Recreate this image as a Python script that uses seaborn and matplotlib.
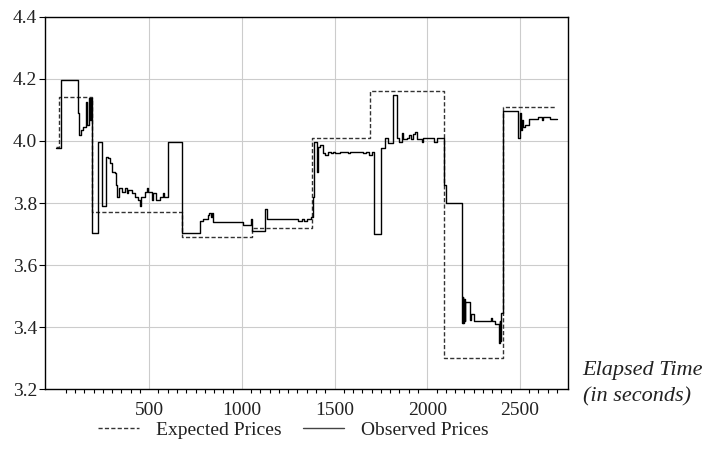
import numpy as np
import pandas as pd
import matplotlib
matplotlib.use("Agg")
import matplotlib.pyplot as plt
import seaborn as sns
from matplotlib.ticker import MultipleLocator, FixedLocator, FormatStrFormatter
from matplotlib.lines import Line2D

# data (step series)
exp_t = [0, 15, 193, 675, 1053, 1376, 1691, 2092, 2410, 2693]
exp_p = [3.98, 4.14, 3.77, 3.69, 3.72, 4.01, 4.16, 3.30, 4.11, 4.11]

obs_t = [0, 27, 117, 122, 130, 141, 159, 166, 175, 180, 186, 189, 225, 243, 265,
         280, 288, 297, 315, 320, 329, 336, 356, 369, 378, 387, 405, 423, 441,
         450, 455, 477, 486, 495, 513, 522, 536, 558, 572, 580, 602, 678, 774,
         792, 819, 825, 832, 837, 843, 1004, 1047, 1057, 1124, 1137, 1304, 1322,
         1335, 1349, 1371, 1382, 1389, 1403, 1407, 1412, 1421, 1436, 1448, 1466,
         1479, 1490, 1503, 1530, 1575, 1584, 1656, 1670, 1688, 1701, 1715, 1749,
         1772, 1790, 1813, 1838, 1849, 1862, 1871, 1889, 1903, 1910, 1921, 1934,
         1943, 1970, 1979, 2037, 2050, 2092, 2099, 2189, 2192, 2195, 2198, 2201,
         2204, 2207, 2230, 2236, 2254, 2342, 2349, 2365, 2389, 2392, 2394, 2397,
         2410, 2491, 2500, 2505, 2512, 2518, 2527, 2550, 2599, 2617, 2622, 2662,
         2698]
obs_p = [3.978, 4.196, 4.089, 4.019, 4.035, 4.046, 4.126, 4.051, 4.137, 4.067,
         4.137, 3.702, 3.997, 3.791, 3.949, 3.944, 3.928, 3.901, 3.896, 3.858,
         3.820, 3.847, 3.836, 3.847, 3.831, 3.842, 3.831, 3.820, 3.810, 3.791,
         3.820, 3.836, 3.847, 3.836, 3.810, 3.831, 3.810, 3.820, 3.831, 3.820,
         3.997, 3.702, 3.742, 3.748, 3.761, 3.769, 3.756, 3.767, 3.740, 3.729,
         3.747, 3.711, 3.780, 3.748, 3.742, 3.748, 3.742, 3.748, 3.756, 3.820,
         3.997, 3.987, 3.901, 3.981, 3.987, 3.960, 3.955, 3.965, 3.960, 3.965,
         3.960, 3.965, 3.960, 3.965, 3.960, 3.965, 3.955, 3.965, 3.700, 3.976,
         4.008, 3.992, 4.148, 4.008, 3.997, 4.024, 4.005, 4.008, 4.019, 4.005,
         4.022, 4.030, 4.005, 3.997, 4.008, 3.997, 4.008, 3.858, 3.799, 3.413,
         3.498, 3.413, 3.490, 3.420, 3.480, 3.480, 3.423, 3.442, 3.421, 3.431,
         3.421, 3.410, 3.350, 3.420, 3.355, 3.445, 4.097, 4.008, 4.089, 4.035,
         4.067, 4.046, 4.051, 4.070, 4.078, 4.067, 4.078, 4.070, 4.070]

y_ticks = [3.2, 3.4, 3.6, 3.8, 4.0, 4.2, 4.4]
x_major = [500, 1000, 1500, 2000, 2500]

df = pd.concat([
    pd.DataFrame({"time": exp_t, "price": exp_p, "series": "Expected Prices"}),
    pd.DataFrame({"time": obs_t, "price": obs_p, "series": "Observed Prices"}),
], ignore_index=True)

sns.set_theme(style="white")
plt.rcParams["font.family"] = ["Liberation Serif", "DejaVu Serif"]

fig = plt.figure(figsize=(7.14, 4.66), dpi=100)
ax = fig.add_axes([0.063, 0.1646, 0.733, 0.7994])

colors = {"Expected Prices": "#333333", "Observed Prices": "black"}
dashes = {"Expected Prices": (3, 1.6), "Observed Prices": ""}
sns.lineplot(data=df, x="time", y="price", hue="series", style="series",
             palette=colors, dashes=dashes, estimator=None, sort=False,
             drawstyle="steps-post", linewidth=1.0, legend=False, ax=ax)

ax.set_xlim(-62, 2761)
ax.set_ylim(3.2, 4.4)
ax.xaxis.set_major_locator(FixedLocator(x_major))
ax.xaxis.set_minor_locator(FixedLocator([v for v in range(50, 2701, 50) if v % 500]))
ax.yaxis.set_major_locator(FixedLocator(y_ticks))
ax.yaxis.set_major_formatter(FormatStrFormatter("%.1f"))
ax.grid(True, which="major", color="#cccccc", linewidth=0.8)
ax.set_axisbelow(True)
for s in ax.spines.values():
    s.set_color("black")
    s.set_linewidth(1.0)
ax.tick_params(axis="x", which="major", direction="out", length=5, width=0.8,
               color="black", labelsize=14, pad=4, labelcolor="#222222")
ax.tick_params(axis="x", which="minor", direction="out", length=3, width=0.8,
               color="black", bottom=True)
ax.tick_params(axis="y", which="major", direction="out", length=4.5, width=0.8,
               color="black", labelsize=14, pad=1, labelcolor="#222222", left=True)
ax.set_xlabel("")
ax.set_ylabel("")

fig.text(0.816, 0.204, "Elapsed Time", fontsize=16, style="italic",
         ha="left", va="center", color="#222222")
fig.text(0.816, 0.148, "(in seconds)", fontsize=16, style="italic",
         ha="left", va="center", color="#222222")

handles = [Line2D([], [], color="#333333", linewidth=1.0, dashes=(3, 1.6)),
           Line2D([], [], color="#444444", linewidth=1.0)]
fig.legend(handles, ["Expected Prices", "Observed Prices"], loc="center",
           bbox_to_anchor=(0.411, 0.077), ncol=2, frameon=False, fontsize=14,
           handlelength=2.1, handletextpad=0.9, columnspacing=1.1,
           labelcolor="#222222")

fig.savefig("out.png", dpi=100)
